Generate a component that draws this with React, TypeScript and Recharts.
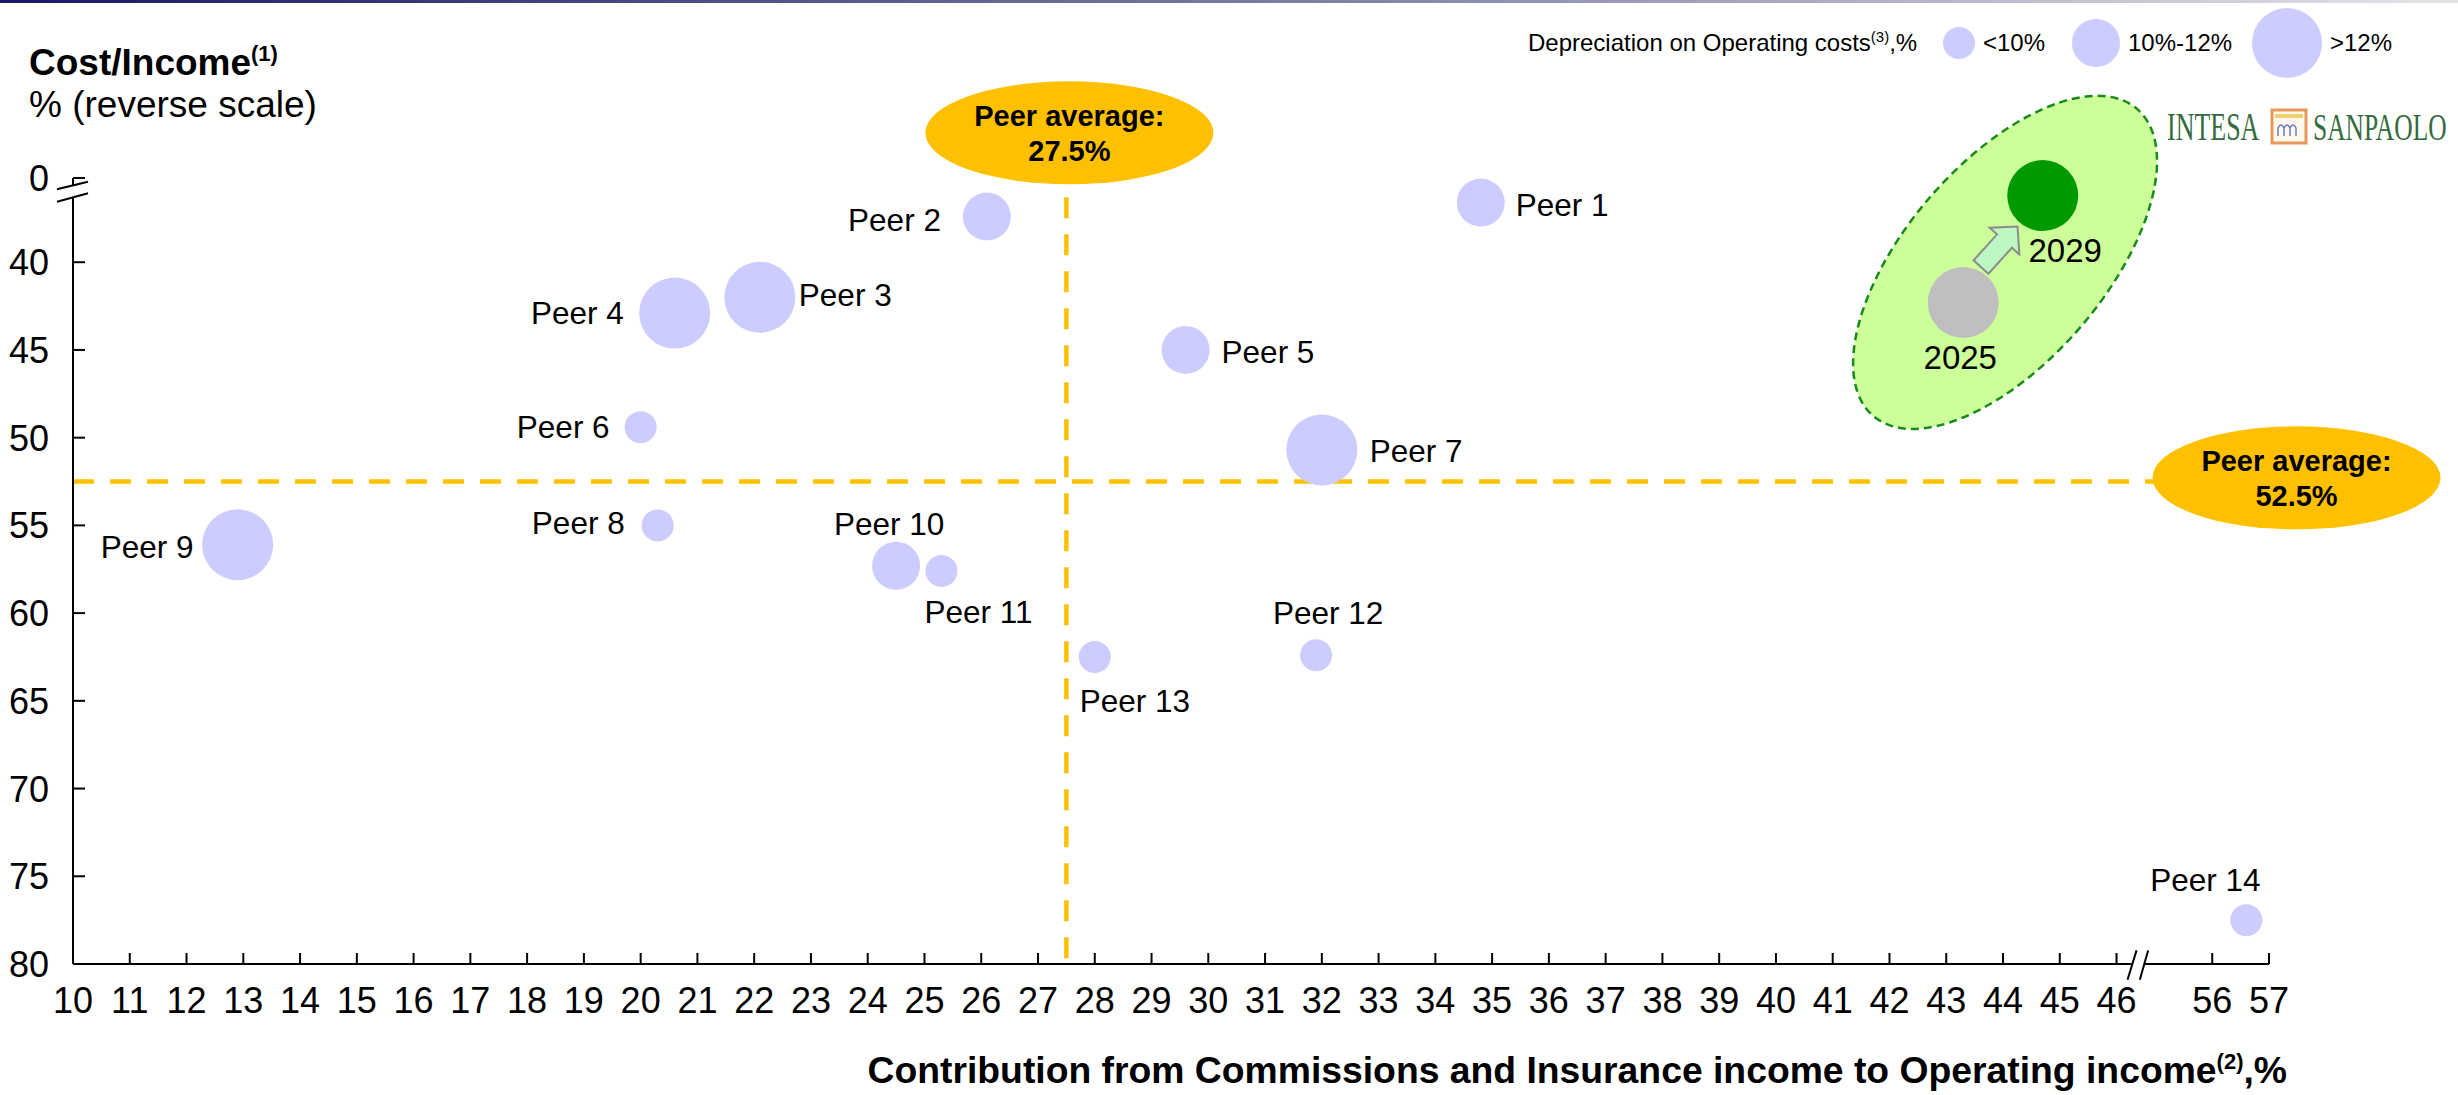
import React from 'react';
import { ScatterChart, Scatter, XAxis, YAxis, ReferenceLine } from 'recharts';

// peers: x = commissions+insurance / operating income (%), y = cost/income (%)
const PEER_NAMES = [
  'Peer 1', 'Peer 2', 'Peer 3', 'Peer 4', 'Peer 5', 'Peer 6', 'Peer 7',
  'Peer 8', 'Peer 9', 'Peer 10', 'Peer 11', 'Peer 12', 'Peer 13', 'Peer 14',
];
const PEER_COMMISSIONS = [34.8, 26.1, 22.1, 20.6, 29.6, 20.0, 32.0, 20.3, 12.9, 24.5, 25.3, 31.9, 28.0, 56.6];
const PEER_COST_INCOME = [36.6, 37.4, 42.0, 42.9, 45.0, 49.4, 50.7, 55.0, 56.1, 57.3, 57.6, 62.4, 62.5, 77.5];
const PEER_DEPRECIATION = [
  '10%-12%', '10%-12%', '>12%', '>12%', '10%-12%', '<10%', '>12%',
  '<10%', '>12%', '10%-12%', '<10%', '<10%', '<10%', '<10%',
];

const ISP_YEARS = ['2025', '2029'];
const ISP_COMMISSIONS = [43.3, 44.7];
const ISP_COST_INCOME = [42.3, 36.2];

const PEER_AVG_COMMISSIONS = 27.5;
const PEER_AVG_COST_INCOME = 52.5;

const DEP_CLASSES = ['<10%', '10%-12%', '>12%'];

const X_TICKS = [
  10, 11, 12, 13, 14, 15, 16, 17, 18, 19, 20, 21, 22, 23, 24, 25, 26, 27, 28,
  29, 30, 31, 32, 33, 34, 35, 36, 37, 38, 39, 40, 41, 42, 43, 44, 45, 46, 56, 57,
];
const Y_TICKS = [0, 40, 45, 50, 55, 60, 65, 70, 75, 80];

// axis breaks
const X_BREAK_FROM = 46;
const X_BREAK_TO = 56;
const X_BREAK_GAP = 1.686;
const Y_AXIS_TOP = 35.2; // where the "0" label sits, above the break
const V_LINE_TOP = 36.3;

const mapX = (v: number) => (v >= X_BREAK_TO ? v - X_BREAK_TO + X_BREAK_FROM + X_BREAK_GAP : v);
const unmapX = (v: number) => (v > X_BREAK_FROM + 0.5 ? Math.round(v - X_BREAK_FROM - X_BREAK_GAP + X_BREAK_TO) : v);
const mapY = (v: number) => (v === 0 ? Y_AXIS_TOP : v);

const DEP_RADIUS: Record<string, number> = { '<10%': 16, '10%-12%': 24, '>12%': 35.5 };

// label offsets from bubble centre: dx, dy, anchor
const LABEL_LAYOUT: Record<string, [number, number, 'start' | 'middle' | 'end']> = {
  'Peer 1': [35, 2.5, 'start'],
  'Peer 2': [-46, 3.5, 'end'],
  'Peer 3': [39, -2, 'start'],
  'Peer 4': [-51, 0, 'end'],
  'Peer 5': [36, 2.5, 'start'],
  'Peer 6': [-31, 0, 'end'],
  'Peer 7': [48, 1, 'start'],
  'Peer 8': [-33, -2.5, 'end'],
  'Peer 9': [-44, 2.5, 'end'],
  'Peer 10': [-7, -42, 'middle'],
  'Peer 11': [-17, 41, 'start'],
  'Peer 12': [12, -42, 'middle'],
  'Peer 13': [-15, 44, 'start'],
  'Peer 14': [-41, -40, 'middle'],
};

const BUBBLE = '#CCCCFF';
const GOLD = '#FFC000';

const peerData = PEER_NAMES.map((name, i) => ({
  name,
  x: mapX(PEER_COMMISSIONS[i]),
  y: PEER_COST_INCOME[i],
  dep: PEER_DEPRECIATION[i],
}));

const ispData = ISP_YEARS.map((year, i) => ({
  year,
  x: mapX(ISP_COMMISSIONS[i]),
  y: ISP_COST_INCOME[i],
}));

const PeerShape = (props: any) => {
  const { cx, cy, payload } = props;
  const r = DEP_RADIUS[payload.dep];
  const [dx, dy, anchor] = LABEL_LAYOUT[payload.name];
  return (
    <g>
      <circle cx={cx} cy={cy} r={r} fill={BUBBLE} />
      <text x={cx + dx} y={cy + dy} dy="0.35em" textAnchor={anchor} fontSize={31.5} fill="#000">
        {payload.name}
      </text>
    </g>
  );
};

const arrowPoints = (sx: number, sy: number) => {
  const d = [0.6707, -0.7422];
  const n = [0.7422, 0.6707];
  const L = 54.5;
  const head = 19.5;
  const p = (a: number, w: number) => `${sx + d[0] * a + n[0] * w},${sy + d[1] * a + n[1] * w}`;
  return [p(0, -10), p(L - head, -10), p(L - head, -20), p(L, 0), p(L - head, 20), p(L - head, 10), p(0, 10)].join(' ');
};

const IspShape = (props: any) => {
  const { cx, cy, payload } = props;
  const first = payload.year === ISP_YEARS[0];
  const hx = cx + 41.8;
  const hy = cy - 40.2;
  return (
    <g>
      {first && (
        <g>
          <ellipse
            cx={hx}
            cy={hy}
            rx={99.4}
            ry={202.4}
            transform={`rotate(40.7 ${hx} ${hy})`}
            fill="#CCFF99"
            stroke="#1A8A1A"
            strokeWidth={2.5}
            strokeDasharray="8 5"
          />
          <polygon points={arrowPoints(cx + 17.75, cy - 35.55)} fill="#BDF7C4" stroke="#8C8C8C" strokeWidth={2} />
        </g>
      )}
      <circle cx={cx} cy={cy} r={35.5} fill={first ? '#BFBFBF' : '#009900'} />
      <text
        x={cx + (first ? -3 : 22.5)}
        y={cy + 55}
        dy="0.35em"
        textAnchor="middle"
        fontSize={33}
        fill="#000"
      >
        {payload.year}
      </text>
    </g>
  );
};

const XTick = (props: any) => {
  const { x, y, payload } = props;
  const v = payload.value;
  return (
    <g>
      <line x1={x} x2={x} y1={y} y2={y - 11} stroke="#000" strokeWidth={2} />
      <text x={x} y={y + 49} textAnchor="middle" fontSize={36} fill="#000">
        {unmapX(v)}
      </text>
      {v === X_BREAK_FROM && (
        <g>
          <polygon
            points={`${x + 11},${y + 15.7} ${x + 20},${y - 13.6} ${x + 31.6},${y - 13.6} ${x + 23.3},${y + 15.7}`}
            fill="#fff"
          />
          <line x1={x + 11} y1={y + 15.7} x2={x + 20} y2={y - 13.6} stroke="#000" strokeWidth={2} />
          <line x1={x + 23.3} y1={y + 15.7} x2={x + 31.6} y2={y - 13.6} stroke="#000" strokeWidth={2} />
        </g>
      )}
    </g>
  );
};

const YTick = (props: any) => {
  const { x, y, payload } = props;
  const v = payload.value;
  const isTop = v === Y_AXIS_TOP;
  return (
    <g>
      {isTop && (
        <g>
          <polygon
            points={`${x - 16},${y + 11.3} ${x + 15},${y + 3.7} ${x + 15},${y + 15.3} ${x - 16},${y + 23.7}`}
            fill="#fff"
          />
          <line x1={x - 16} y1={y + 11.3} x2={x + 15} y2={y + 3.7} stroke="#000" strokeWidth={2} />
          <line x1={x - 16} y1={y + 23.7} x2={x + 15} y2={y + 15.3} stroke="#000" strokeWidth={2} />
        </g>
      )}
      <line x1={x} x2={x + 12} y1={y} y2={y} stroke="#000" strokeWidth={2} />
      <text x={x - 24} y={y} dy="0.36em" textAnchor="end" fontSize={36} fill="#000">
        {isTop ? '0' : v}
      </text>
    </g>
  );
};

const AvgBadge = ({ cx, cy, value }: { cx: number; cy: number; value: number }) => (
  <g>
    <ellipse cx={cx} cy={cy} rx={144} ry={51.5} fill={GOLD} />
    <text x={cx} y={cy - 6.5} textAnchor="middle" fontSize={29} fontWeight="bold" fill="#000">
      Peer average:
    </text>
    <text x={cx} y={cy + 28} textAnchor="middle" fontSize={29} fontWeight="bold" fill="#000">
      {value}%
    </text>
  </g>
);

const LEGEND_X = [1959, 2096, 2287];
const LEGEND_LABEL_X = [1983, 2128, 2330];

export default function App() {
  return (
    <div
      style={{
        position: 'absolute',
        left: 0,
        top: 0,
        width: 2458,
        height: 1095,
        background: '#fff',
        fontFamily: "'Liberation Sans', Arial, sans-serif",
        overflow: 'hidden',
      }}
    >
      <div
        style={{
          position: 'absolute',
          left: 0,
          top: 0,
          width: 2458,
          height: 3,
          background: 'linear-gradient(to right, #17166a, #6d6d9a 45%, #e4e4e8)',
        }}
      />
      <ScatterChart width={2458} height={1095} margin={{ top: 178, right: 189, bottom: 71, left: 0 }}>
        <XAxis
          type="number"
          dataKey="x"
          domain={[10, X_BREAK_FROM + X_BREAK_GAP + 1]}
          ticks={X_TICKS.map(mapX)}
          interval={0}
          height={60}
          tickSize={0}
          tickMargin={0}
          tickLine={false}
          axisLine={{ stroke: '#000', strokeWidth: 2 }}
          tick={<XTick />}
        />
        <YAxis
          type="number"
          dataKey="y"
          domain={[Y_AXIS_TOP, 80]}
          reversed
          ticks={Y_TICKS.map(mapY)}
          interval={0}
          width={73}
          tickSize={0}
          tickMargin={0}
          tickLine={false}
          axisLine={{ stroke: '#000', strokeWidth: 2 }}
          tick={<YTick />}
        />
        <ReferenceLine
          y={PEER_AVG_COST_INCOME}
          stroke={GOLD}
          strokeWidth={4.5}
          strokeDasharray="21 16"
          label={(p: any) => (
            <AvgBadge cx={p.viewBox.x + p.viewBox.width + 27.5} cy={p.viewBox.y - 3.7} value={PEER_AVG_COST_INCOME} />
          )}
        />
        <ReferenceLine
          segment={[
            { x: PEER_AVG_COMMISSIONS, y: V_LINE_TOP },
            { x: PEER_AVG_COMMISSIONS, y: 80 },
          ]}
          stroke={GOLD}
          strokeWidth={4.5}
          strokeDasharray="21 16"
          label={(p: any) => (
            <AvgBadge cx={p.viewBox.x + 3} cy={p.viewBox.y - 64.5} value={PEER_AVG_COMMISSIONS} />
          )}
        />
        <Scatter data={peerData} shape={PeerShape} isAnimationActive={false} />
        <Scatter data={ispData} shape={IspShape} isAnimationActive={false} />
      </ScatterChart>

      <svg
        width={2458}
        height={1095}
        style={{ position: 'absolute', left: 0, top: 0, pointerEvents: 'none' }}
      >
        {/* y axis title */}
        <text x={29} y={75} fontSize={37} fontWeight="bold" fill="#000">
          Cost/Income
          <tspan fontSize={22} dy={-14}>(1)</tspan>
        </text>
        <text x={29} y={117} fontSize={37} fill="#000">
          % (reverse scale)
        </text>

        {/* x axis title */}
        <text x={2287} y={1083} textAnchor="end" fontSize={37.3} fontWeight="bold" fill="#000">
          Contribution from Commissions and Insurance income to Operating income
          <tspan fontSize={22} dy={-14}>(2)</tspan>
          <tspan dy={14}>,%</tspan>
        </text>

        {/* size legend */}
        <text x={1528} y={51} fontSize={24} fill="#000">
          Depreciation on Operating costs
          <tspan fontSize={15} dy={-9}>(3)</tspan>
          <tspan dy={9}>,%</tspan>
        </text>
        {DEP_CLASSES.map((c, i) => (
          <g key={c}>
            <circle cx={LEGEND_X[i]} cy={43} r={DEP_RADIUS[c] - (i === 2 ? 0.5 : 0)} fill={BUBBLE} />
            <text x={LEGEND_LABEL_X[i]} y={51} fontSize={24} fill="#000">
              {c}
            </text>
          </g>
        ))}

        {/* logo, condensed serif */}
        <g fontFamily="'Liberation Serif', 'DejaVu Serif', serif" fill="#356B3E">
          <g transform="translate(2167 140) scale(1 1.5)">
            <text x={0} y={0} fontSize={26}>
              INTESA
            </text>
          </g>
          <rect x={2272} y={110} width={34} height={33} fill="#FFF8EC" stroke="#E5995A" strokeWidth={3} />
          <rect x={2275} y={114} width={28} height={4} fill="#EFD070" />
          <path
            d="M2278 136 v-8 q3 -6 6 0 v8 M2284 136 v-8 q3 -6 6 0 v8 M2290 136 v-8 q3 -6 6 0 v8"
            fill="none"
            stroke="#6A7FC0"
            strokeWidth={1.5}
          />
          <g transform="translate(2313 140) scale(1 1.5)">
            <text x={0} y={0} fontSize={25.5}>
              SANPAOLO
            </text>
          </g>
        </g>
      </svg>
    </div>
  );
}
